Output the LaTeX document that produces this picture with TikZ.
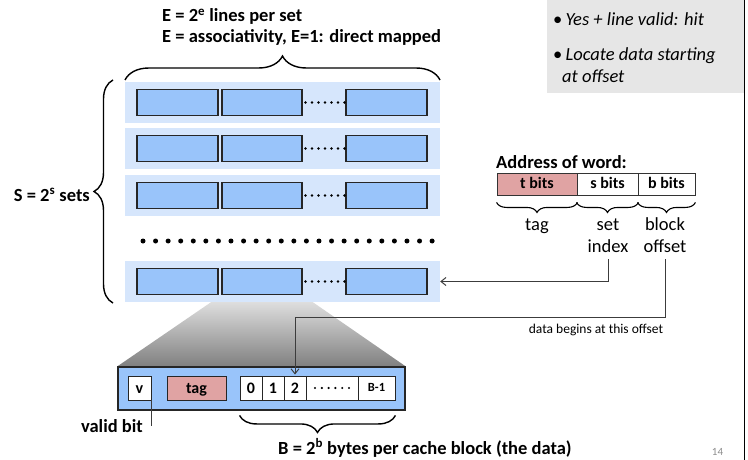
\documentclass[tikz,border=0pt]{standalone}
\usepackage{fontspec}
\setmainfont{Carlito}
\usetikzlibrary{arrows.meta,decorations.pathreplacing,calc,backgrounds}
\definecolor{setbg}{RGB}{214,230,252}
\definecolor{blk}{RGB}{153,196,250}
\definecolor{pinkc}{RGB}{224,163,163}
\definecolor{boxgray}{RGB}{230,230,230}
\definecolor{linec}{RGB}{60,60,60}
\definecolor{shtop}{RGB}{232,232,232}
\definecolor{shbot}{RGB}{128,128,128}
\begin{document}
\begin{tikzpicture}[x=1pt,y=-1pt,
  setbox/.style={fill=setbg,draw=none,minimum width=315pt,minimum height=41pt,inner sep=0pt},
  blockbox/.style={fill=blk,draw=black!85,line width=1.1pt,minimum height=26pt,inner sep=0pt},
  cellbox/.style={fill=white,draw=black!85,line width=0.9pt,minimum height=24pt,inner sep=0pt,text height=12pt,text depth=2pt,font=\fontsize{16}{18}\selectfont\bfseries},
  addrbox/.style={fill=white,draw=black!80,line width=0.9pt,minimum height=22pt,inner sep=0pt,text height=12pt,text depth=2pt,font=\fontsize{16}{18}\selectfont\bfseries},
  lbl/.style={inner sep=0pt,font=\fontsize{18.5}{22}\selectfont\bfseries},
  rlbl/.style={inner sep=0pt,font=\fontsize{18.5}{22}\selectfont},
  ilbl/.style={inner sep=0pt,font=\fontsize{18.5}{22}\selectfont\itshape},
  bigbrace/.style={draw=black,line width=1.4pt,decorate},
  conn/.style={draw=linec,line width=1pt,-{Straight Barb[length=5pt,width=8pt]}},
  plainconn/.style={draw=linec,line width=1pt}
]
\useasboundingbox (0,0) rectangle (748,460);
% gray note box
\fill[boxgray] (547,0) rectangle (744,93);
\draw[line width=1.5pt] (744.5,0) -- (744.5,460);
\node[rlbl,anchor=base west] (bul1) at (553,26) {\textbullet\,\textit{Yes + line valid: hit}};
\node[rlbl,anchor=base west] (bul2) at (553,61) {\textbullet\,\textit{Locate data starting}};
\node[ilbl,anchor=base west] (bul3) at (562,83) {at offset};

% top labels
\node[lbl,anchor=base west] (e1) at (162,22) {E = 2\textsuperscript{e} lines per set};
\node[lbl,anchor=base west] (e2) at (162,42.5) {E = associativity, E=1: direct mapped};

% sets
\foreach \i/\yy in {1/102.5,2/148.5,3/195.5,4/281.5}{
  \node[setbox] (set\i) at (282.5,\yy) {};
  \node[blockbox,minimum width=81pt] (b\i a) at (177.5,\yy) {};
  \node[blockbox,minimum width=80pt] (b\i b) at (262,\yy) {};
  \node[blockbox,minimum width=81pt] (b\i c) at (386.5,\yy) {};
  \foreach \k in {0,...,6}{\fill (305.5+\k*6.5,\yy) circle (1.3pt);}
}
\foreach \k in {0,...,23}{\fill (143+\k*12.57,241) circle (2.5pt);}

% cache line
\node[fill=blk,draw=black!85,line width=1.3pt,minimum width=287pt,minimum height=43pt,inner sep=0pt] (cl) at (261.5,388.5) {};
\begin{pgfonlayer}{background}
\shade[top color=shtop,bottom color=shbot] (b4b.south west) -- (b4b.south east) -- (cl.north east) -- (cl.north west) -- cycle;
\end{pgfonlayer}
\node[cellbox,minimum width=23pt] (v) at (139.5,388) {v};
\node[cellbox,minimum width=59pt,fill=pinkc] (tagc) at (196.5,388) {tag};
\node[cellbox,minimum width=22pt] (c0) at (251,388) {0};
\node[cellbox,minimum width=22pt] (c1) at (273,388) {1};
\node[cellbox,minimum width=22pt] (c2) at (295,388) {2};
\node[cellbox,minimum width=52pt] (cd) at (332,388) {};
\foreach \k in {0,...,5}{\fill (315+\k*6.8,388) circle (1.2pt);}
\node[cellbox,minimum width=37pt,text height=9pt,text depth=1.5pt,font=\fontsize{12.5}{14}\selectfont\bfseries] (cb) at (376.5,388) {B-1};

% braces
\draw[bigbrace,decoration={brace,amplitude=24pt}] (125,80) -- (440,80);
\draw[bigbrace,decoration={brace,amplitude=19pt}] (113,303) -- (113,80);
\draw[bigbrace,decoration={brace,amplitude=17pt}] ($(cb.south east)+(0,15)$) -- ($(c0.south west)+(0,15)$);

% labels
\node[lbl,anchor=base east] (slbl) at (90,201) {S = 2\textsuperscript{s} sets};
\node[lbl,anchor=base east] (vb) at (143,432) {valid bit};
\node[lbl,anchor=base west] (blbl) at (278,454) {B = 2\textsuperscript{b} bytes per cache block (the data)};
\draw[plainconn] (v.south east) -- (v.south east |- vb.east);

% address
\node[lbl,anchor=base west] (addr) at (496,168) {Address of word:};
\node[addrbox,minimum width=80pt,fill=pinkc] (tb) at (537,184) {t bits};
\node[addrbox,minimum width=61pt] (sb) at (607.5,184) {s bits};
\node[addrbox,minimum width=57pt] (bb) at (666.5,184) {b bits};
\draw[draw=black,line width=1.1pt,decorate,decoration={brace,amplitude=10pt}] ($(tb.south east)+(0,7)$) -- ($(tb.south west)+(0,7)$);
\draw[draw=black,line width=1.1pt,decorate,decoration={brace,amplitude=10pt}] ($(sb.south east)+(0,7)$) -- ($(sb.south west)+(0,7)$);
\draw[draw=black,line width=1.1pt,decorate,decoration={brace,amplitude=10pt}] ($(bb.south east)+(0,7)$) -- ($(bb.south west)+(0,7)$);
\node[rlbl,anchor=base] (ltag) at (537,230) {tag};
\node[rlbl,anchor=base] (lset) at (608,230) {set};
\node[rlbl,anchor=base] (lidx) at (608,252) {index};
\node[rlbl,anchor=base] (lblk) at (665,230) {block};
\node[rlbl,anchor=base] (loff) at (665,252) {offset};

% connectors
\draw[conn] ([yshift=-7pt]lidx.south) |- (set4.east);
\coordinate (turn) at (c2.north |- 0,317);
\draw[conn] ([yshift=-7pt]loff.south) |- (turn) -- ([yshift=1pt]c2.north);
\node[anchor=base,inner sep=0pt,font=\fontsize{13.5}{16}\selectfont] (dbl) at (596,333) {data begins at this offset};

\node[inner sep=0pt,text=black!45,font=\fontsize{11}{13}\selectfont] (pg) at (717.5,451.5) {14};
\end{tikzpicture}
\end{document}
